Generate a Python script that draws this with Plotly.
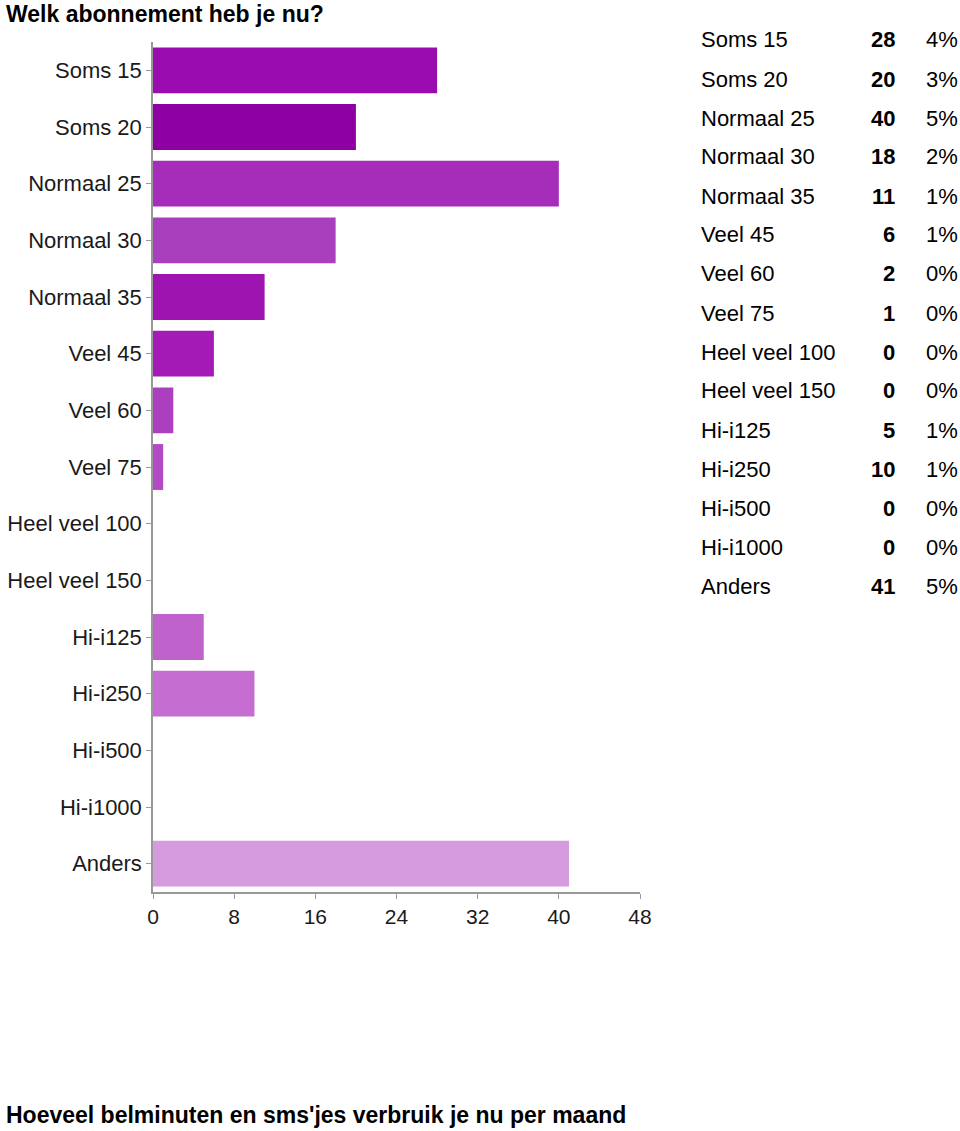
import plotly.graph_objects as go

categories = ["Soms 15", "Soms 20", "Normaal 25", "Normaal 30", "Normaal 35",
              "Veel 45", "Veel 60", "Veel 75", "Heel veel 100", "Heel veel 150",
              "Hi-i125", "Hi-i250", "Hi-i500", "Hi-i1000", "Anders"]
counts = [28, 20, 40, 18, 11, 6, 2, 1, 0, 0, 5, 10, 0, 0, 41]
percents = ["4%", "3%", "5%", "2%", "1%", "1%", "0%", "0%", "0%", "0%",
            "1%", "1%", "0%", "0%", "5%"]
bar_colors = ["#9b0cb0", "#8f00a3", "#a52db9", "#aa3fbd", "#9d14b1",
              "#a31ab7", "#ac3ec0", "#b34ac5", "#b850c8", "#b850c8",
              "#c062cc", "#c56dd0", "#cc80d6", "#cc80d6", "#d69ade"]
x_ticks = [0, 8, 16, 24, 32, 40, 48]

W, H = 960, 1131
FONT = "Liberation Sans, Arial, sans-serif"

def px(x):
    return x / W

def py(y):
    return 1 - y / H

fig = go.Figure()
fig.add_trace(go.Bar(
    x=counts, y=categories, orientation="h",
    marker=dict(color=bar_colors, line=dict(width=0)),
    width=0.81, hoverinfo="x+y", showlegend=False,
))

fig.update_layout(
    width=W, height=H, autosize=False,
    margin=dict(l=0, r=0, t=0, b=0, pad=0),
    paper_bgcolor="white", plot_bgcolor="white",
    font=dict(family=FONT, color="#222"),
    xaxis=dict(
        domain=[px(153), px(640)], range=[0, 48],
        tickvals=x_ticks, ticktext=[str(v) for v in x_ticks],
        showgrid=False, zeroline=False, automargin=False,
        showline=True, linecolor="#999", linewidth=1.5,
        ticks="outside", ticklen=5, tickcolor="#999",
        tickfont=dict(size=21, color="#1a1a1a", family=FONT),
        anchor="y",
    ),
    yaxis=dict(
        domain=[py(892), py(42)], range=[14.5, -0.5],
        categoryorder="array", categoryarray=categories,
        showgrid=False, zeroline=False, automargin=False,
        showline=True, linecolor="#999", linewidth=1.5,
        ticks="outside", ticklen=5, tickcolor="#999",
        tickfont=dict(size=22, color="#1a1a1a", family=FONT),
        anchor="x",
    ),
)

annotations = []
annotations.append(dict(
    x=px(4), y=py(14), xref="paper", yref="paper", xanchor="left", yanchor="middle",
    text="<b>Welk abonnement heb je nu?</b>", showarrow=False,
    font=dict(size=23, color="#000", family=FONT),
))
annotations.append(dict(
    x=px(4), y=py(1115), xref="paper", yref="paper", xanchor="left", yanchor="middle",
    text="<b>Hoeveel belminuten en sms'jes verbruik je nu per maand</b>", showarrow=False,
    font=dict(size=23, color="#000", family=FONT),
))

for i, (cat, cnt, pct) in enumerate(zip(categories, counts, percents)):
    yy = 40 + i * 39
    annotations.append(dict(
        x=px(699), y=py(yy), xref="paper", yref="paper", xanchor="left", yanchor="middle",
        text=cat, showarrow=False, font=dict(size=22, color="#000", family=FONT),
    ))
    annotations.append(dict(
        x=px(897), y=py(yy), xref="paper", yref="paper", xanchor="right", yanchor="middle",
        text="<b>%d</b>" % cnt, showarrow=False, font=dict(size=22, color="#000", family=FONT),
    ))
    annotations.append(dict(
        x=px(960), y=py(yy), xref="paper", yref="paper", xanchor="right", yanchor="middle",
        text=pct, showarrow=False, font=dict(size=22, color="#000", family=FONT),
    ))

fig.update_layout(annotations=annotations)
fig.write_html("out.html", post_script="document.body.style.margin='0px';")
